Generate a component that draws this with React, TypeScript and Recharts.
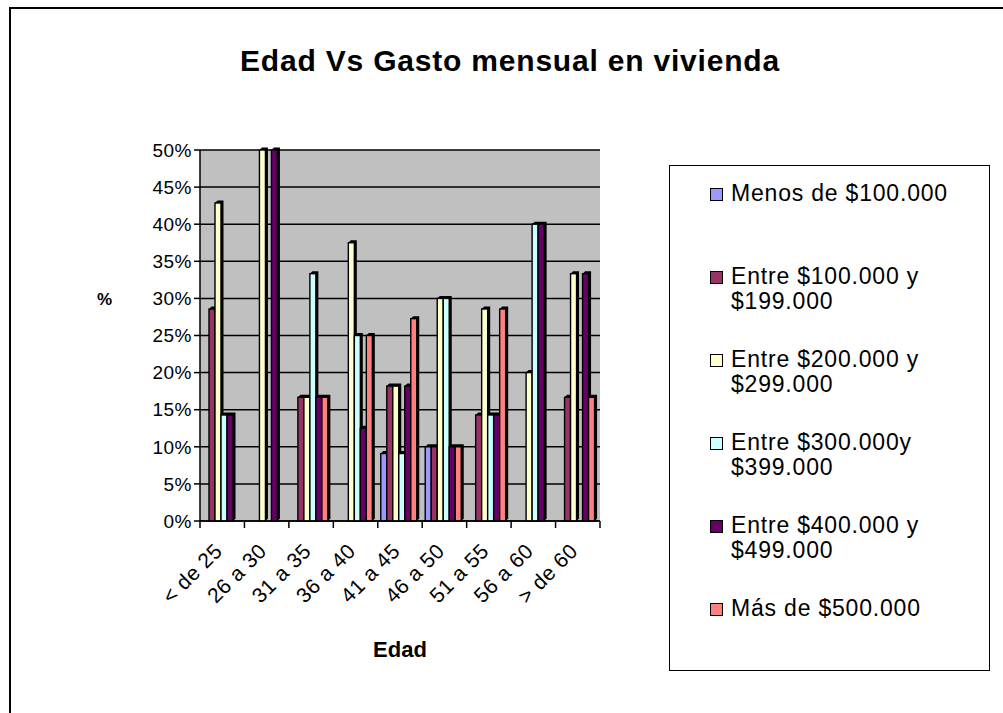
import React from 'react';
import { BarChart, Bar, XAxis, YAxis, CartesianGrid, Legend } from 'recharts';

const categories = ['< de 25', '26 a 30', '31 a 35', '36 a 40', '41 a 45', '46 a 50', '51 a 55', '56 a 60', '> de 60'];

// porcentaje por rango de edad
const menos100 = [0, 0, 0, 0, 9.09, 10, 0, 0, 0];
const entre100 = [28.57, 0, 16.67, 0, 18.18, 10, 14.29, 0, 16.67];
const entre200 = [42.86, 50, 16.67, 37.5, 18.18, 30, 28.57, 20, 33.33];
const entre300 = [14.29, 0, 33.33, 25, 9.09, 30, 14.29, 40, 0];
const entre400 = [14.29, 50, 16.67, 12.5, 18.18, 10, 14.29, 40, 33.33];
const mas500 = [0, 0, 16.67, 25, 27.27, 10, 28.57, 0, 16.67];

const yTicks = [0, 5, 10, 15, 20, 25, 30, 35, 40, 45, 50];

const series = [
  { key: 'menos100', name: 'Menos de $100.000', color: '#9999FF', values: menos100 },
  { key: 'entre100', name: 'Entre $100.000 y $199.000', color: '#993366', values: entre100 },
  { key: 'entre200', name: 'Entre $200.000 y $299.000', color: '#FFFFCC', values: entre200 },
  { key: 'entre300', name: 'Entre $300.000y $399.000', color: '#CCFFFF', values: entre300 },
  { key: 'entre400', name: 'Entre $400.000 y $499.000', color: '#660066', values: entre400 },
  { key: 'mas500', name: 'Más de $500.000', color: '#FF8080', values: mas500 },
];

const data = categories.map((edad, i) => {
  const row: any = { edad };
  series.forEach((s) => (row[s.key] = s.values[i]));
  return row;
});

const FONT = '"Liberation Sans", Arial, sans-serif';
const CHART_W = 1003;
const CHART_H = 713;
const MARGIN = { top: 150, left: 140, right: 403, bottom: 42 };
const PLOT_W = CHART_W - MARGIN.left - 60 - MARGIN.right;
const BAND = PLOT_W / categories.length;

const Bar3D = (props: any) => {
  const { x, y, width, height, fill } = props;
  if (!height || height <= 0) return null;
  return (
    <g>
      <polygon points={`${x},${y} ${x + 2.5},${y - 2.5} ${x + width + 2.5},${y - 2.5} ${x + width + 2.5},${y + height - 2.5} ${x + width},${y + height}`} fill="#000" />
      <rect x={x} y={y} width={width} height={height} fill={fill} stroke="#000" strokeWidth={1.4} />
    </g>
  );
};

const AgeTick = (props: any) => {
  const { x, y, payload, index } = props;
  const last = index === categories.length - 1;
  return (
    <g>
      <line x1={x - BAND / 2} y1={y - 8} x2={x - BAND / 2} y2={y - 1} stroke="#000" strokeWidth={1.5} />
      {last && <line x1={x + BAND / 2} y1={y - 8} x2={x + BAND / 2} y2={y - 1} stroke="#000" strokeWidth={1.5} />}
      <text
        transform={`translate(${x - 4},${y + 18}) rotate(-45)`}
        textAnchor="end"
        dominantBaseline="central"
        fontFamily={FONT}
        fontSize={21}
        letterSpacing={0.5}
        fill="#000"
      >
        {payload.value}
      </text>
    </g>
  );
};

const LegendBox = ({ payload }: any) => {
  const items = [...(payload || [])].sort(
    (a: any, b: any) => series.findIndex((s) => s.name === a.value) - series.findIndex((s) => s.name === b.value)
  );
  return (
    <div
      style={{
        width: 321,
        height: 506,
        border: '1.5px solid #000',
        boxSizing: 'border-box',
        background: '#fff',
        paddingTop: 15,
        paddingLeft: 40,
        fontFamily: FONT,
        fontSize: 23,
        color: '#000',
      }}
    >
      {items.map((p: any) => (
        <div key={p.value} style={{ display: 'flex', alignItems: 'flex-start', height: 83 }}>
          <span
            style={{
              display: 'inline-block',
              width: 11,
              height: 11,
              marginTop: 7,
              marginRight: 8,
              background: p.color,
              border: '1.5px solid #000',
              flexShrink: 0,
            }}
          />
          <span style={{ width: 235, lineHeight: '25px', letterSpacing: 0.8 }}>{p.value}</span>
        </div>
      ))}
    </div>
  );
};

export default function App() {
  return (
    <div style={{ position: 'absolute', left: 0, top: 0, width: CHART_W, height: CHART_H, overflow: 'hidden', background: '#fff' }}>
      <div
        style={{
          position: 'absolute',
          left: 9,
          top: 7,
          width: 1100,
          height: 800,
          borderLeft: '2.5px solid #000',
          borderTop: '2.5px solid #000',
        }}
      />
      <div
        style={{
          position: 'absolute',
          left: 0,
          top: 44,
          width: 1020,
          textAlign: 'center',
          fontFamily: FONT,
          fontWeight: 'bold',
          fontSize: 30,
          letterSpacing: 0.8,
          color: '#000',
        }}
      >
        Edad Vs Gasto mensual en vivienda
      </div>
      <div style={{ position: 'absolute', left: 0, top: 0 }}>
        <BarChart width={CHART_W} height={CHART_H} data={data} margin={MARGIN} barCategoryGap={3} barGap={0}>
          <CartesianGrid vertical={false} stroke="#000" strokeWidth={1.5} fill="#C0C0C0" strokeOpacity={1} />
          <XAxis
            dataKey="edad"
            interval={0}
            height={150}
            tick={<AgeTick />}
            tickLine={false}
            axisLine={{ stroke: '#000', strokeWidth: 1.5 }}
            label={{ value: 'Edad', position: 'insideBottom', offset: 14, style: { fontFamily: FONT, fontWeight: 'bold', fontSize: 22, fill: '#000' } }}
          />
          <YAxis
            width={60}
            domain={[0, 50]}
            ticks={yTicks}
            interval={0}
            tickFormatter={(v: number) => `${v}%`}
            tick={{ fontFamily: FONT, fontSize: 19, fill: '#000', letterSpacing: 0.5 }}
            tickLine={{ stroke: '#000', strokeWidth: 1.5 }}
            tickSize={6}
            axisLine={{ stroke: '#000', strokeWidth: 1.5 }}
            label={{ value: '%', position: 'left', offset: 0, dx: -28, dy: -37, style: { fontFamily: FONT, fontWeight: 'bold', fontSize: 17, fill: '#000' } }}
          />
          <Legend
            layout="vertical"
            align="center"
            verticalAlign="middle"
            content={<LegendBox />}
            wrapperStyle={{ left: 669, top: 165, width: 321, height: 506 }}
          />
          {series.map((s) => (
            <Bar key={s.key} dataKey={s.key} name={s.name} fill={s.color} shape={<Bar3D />} isAnimationActive={false} />
          ))}
        </BarChart>
      </div>
    </div>
  );
}
